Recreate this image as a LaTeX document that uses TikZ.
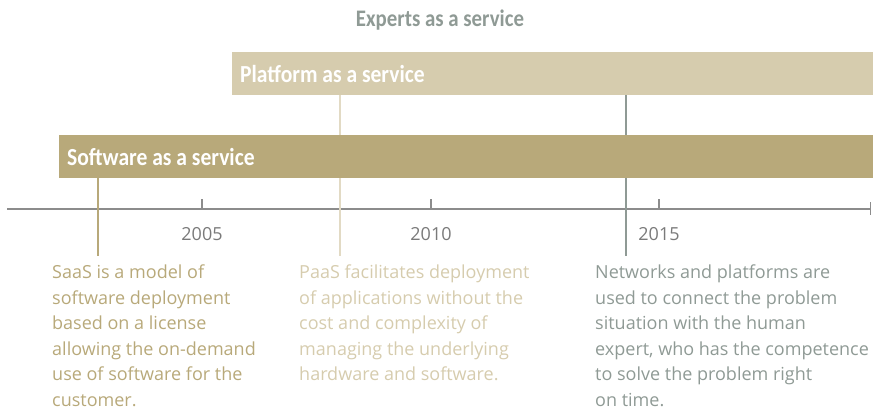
\documentclass[tikz,border=0pt]{standalone}
\usepackage{fontspec}
\setmainfont{Open Sans}
\newfontfamily\condfont[FakeStretch=0.88]{Carlito}
\usetikzlibrary{positioning, arrows.meta}

\definecolor{saascol}{HTML}{B8A97A}
\definecolor{paascol}{HTML}{D6CCAE}
\definecolor{paasline}{HTML}{E2DAC4}
\definecolor{expcol}{HTML}{8F9A95}
\definecolor{axiscol}{HTML}{8C8C8C}
\definecolor{yearcol}{HTML}{7A7A7A}

\begin{document}
\begin{tikzpicture}[x=1pt, y=-1pt,
        bar/.style={anchor=north west, minimum height=43pt, inner xsep=8pt, align=flush left,
                    text=white, font=\condfont\bfseries\fontsize{24.5}{24.5}\selectfont},
        desc/.style={anchor=north west, inner sep=0pt, align=flush left,
                     font=\fontsize{18}{25.5}\selectfont},
        axis/.style={axiscol, line width=1.3pt},
        year/.style={text=yearcol, font=\fontsize{18}{18}\selectfont}]
        \useasboundingbox (0,0) rectangle (873,411);
        % title
        \node (exp) [text=expcol, font=\condfont\bfseries\fontsize{23.7}{23.7}\selectfont] at (440,20) {Experts as a service};
        % bars
        \node (paas) [bar, fill=paascol, text width=625pt] at (232,52) {Platform as a service};
        \node (saas) [bar, fill=saascol, text width=798pt] at (59,135) {Software as a service};
        % axis
        \coordinate (ax0) at (7,209);
        \coordinate (ax1) at (871,209);
        \draw[axis, -{Bar[width=13pt]}] (ax0) -- (ax1);
        \foreach \yr/\x in {2005/202, 2010/431, 2015/659} {
            \coordinate (t\yr) at (\x,209);
            \draw[axis] (t\yr) -- ++(0,-10);
            \node (y\yr) [year] at (\x,234) {\yr};
        }
        % drop lines
        \coordinate (sl) at (98,256);
        \coordinate (pl) at (340,256);
        \coordinate (el) at (626,256);
        \draw[saascol, line width=1.3pt] (saas.south -| sl) -- (sl);
        \foreach \l/\c in {pl/paasline, el/expcol} {
            \draw[\c, line width=1.3pt] (paas.south -| \l) -- (saas.north -| \l);
            \draw[\c, line width=1.3pt] (saas.south -| \l) -- (\l);
        }
        % texts
        \node (saastxt) [desc, text=saascol] at (52,265) {SaaS is a model of\\ software deployment\\ based on a license\\
            allowing the on-demand\\ use of software for the\\ customer.};
        \node (paastxt) [desc, text=paascol] at (299,265) {PaaS facilitates deployment\\ of applications without the\\
            cost and complexity of\\ managing the underlying\\ hardware and software.};
        \node (exptxt) [desc, text=expcol] at (595,265) {Networks and platforms are\\ used to connect the problem\\
            situation with the human\\ expert, who has the competence\\ to solve the problem right\\ on time.};
\end{tikzpicture}
\end{document}
